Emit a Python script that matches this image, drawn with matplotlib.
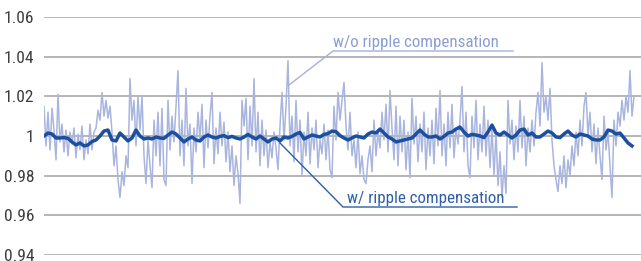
import numpy as np
import matplotlib
matplotlib.use("Agg")
import matplotlib.pyplot as plt
from matplotlib.lines import Line2D
from matplotlib import font_manager

# light series: without ripple compensation (one value per sample)
raw = [1.015, 0.995, 1.012, 0.993, 1.014, 1.003, 0.988, 1.021, 0.997, 1.006,
       0.992, 1.003, 0.990, 1.002, 0.996, 1.004, 0.989, 1.001, 0.993, 1.005,
       0.988, 0.998, 0.991, 1.006, 0.993, 1.002, 1.004, 1.013, 1.008, 1.022,
       1.010, 1.018, 1.009, 1.015, 1.002, 0.985, 0.995, 0.978, 0.969, 0.982,
       0.975, 0.990, 0.984, 1.029, 1.008, 1.018, 0.995, 1.020, 1.003, 1.020,
       0.990, 0.976, 0.998, 0.985, 0.974, 1.008, 0.990, 1.012, 0.985, 1.014,
       0.978, 0.975, 1.018, 0.993, 1.010, 0.997, 1.015, 1.033, 0.990, 1.008,
       0.985, 1.024, 0.995, 1.006, 0.976, 1.004, 0.992, 1.012, 0.998, 1.016,
       0.984, 1.008, 0.994, 1.010, 1.022, 0.986, 1.004, 0.991, 1.012, 0.995,
       1.007, 0.987, 1.002, 0.982, 0.995, 0.975, 0.990, 0.981, 0.966, 1.018,
       1.005, 1.019, 0.988, 1.015, 0.995, 1.029, 0.992, 1.012, 0.985, 1.008,
       0.990, 1.003, 0.984, 0.997, 0.989, 1.002, 0.994, 0.983, 1.005, 1.022,
       0.998, 1.015, 1.038, 0.995, 1.010, 0.987, 1.018, 0.992, 1.008, 0.980,
       1.002, 0.990, 1.012, 0.986, 1.004, 0.993, 1.008, 0.984, 0.998, 0.991,
       1.006, 0.988, 1.003, 0.983, 0.979, 1.015, 0.998, 1.022, 1.008, 1.018,
       1.027, 1.005, 0.993, 1.012, 0.990, 0.998, 0.984, 1.002, 0.981, 0.990,
       0.978, 0.976, 0.988, 0.995, 0.982, 1.008, 0.990, 1.002, 0.994, 1.012,
       0.998, 1.016, 0.992, 1.023, 1.004, 0.988, 1.015, 0.985, 1.010, 0.992,
       1.008, 0.983, 1.002, 0.979, 1.019, 0.996, 1.010, 0.987, 1.006, 0.992,
       1.012, 0.983, 1.004, 0.990, 1.008, 0.986, 1.014, 0.995, 1.023, 0.990,
       1.006, 0.985, 1.012, 0.994, 1.016, 0.989, 1.004, 0.996, 1.008, 1.025,
       0.992, 1.012, 0.985, 0.979, 1.010, 0.994, 1.018, 0.988, 1.006, 0.992,
       1.015, 0.990, 1.008, 0.984, 1.004, 0.980, 1.002, 0.975, 0.992, 0.969,
       0.985, 0.971, 1.018, 0.996, 1.008, 0.988, 1.005, 0.992, 1.018, 0.994,
       1.010, 0.985, 1.004, 0.992, 1.008, 0.995, 1.012, 1.022, 1.005, 1.037,
       1.012, 1.020, 1.008, 1.024, 0.998, 0.985, 0.978, 0.972, 0.985, 0.976,
       0.990, 0.974, 0.988, 0.980, 0.995, 0.985, 1.002, 0.990, 1.008, 0.995,
       1.015, 1.022, 1.000, 1.012, 0.992, 1.006, 0.986, 1.004, 0.990, 0.978,
       1.010, 0.993, 1.002, 0.985, 0.969, 1.008, 0.995, 1.012, 1.005, 1.018,
       1.008, 1.020, 1.012, 1.033, 1.010, 1.020]

# dark series: with ripple compensation (every second sample)
comp = [1.000, 1.0015, 1.001, 0.999, 0.999, 0.9992, 0.9988, 0.997, 0.9955, 0.9965,
        0.995, 0.9955, 0.9972, 0.998, 1.000, 1.0025, 1.003, 0.998, 0.9975, 1.0015,
        0.9995, 0.9975, 0.999, 1.003, 1.000, 0.9985, 0.999, 0.9985, 0.9995, 0.999,
        0.9988, 1.0005, 1.002, 1.001, 0.999, 0.997, 0.9985, 0.9995, 0.998, 0.9975,
        0.9995, 1.0005, 0.9995, 0.999, 0.9998, 1.0002, 0.9992, 0.9998, 0.999, 0.9985,
        0.9995, 1.0008, 0.9995, 0.9985, 1.000, 0.9985, 0.997, 0.9985, 0.999, 0.9975,
        0.9995, 0.999, 0.9998, 1.001, 1.0018, 0.9985, 0.9995, 1.0005, 1.000, 0.9995,
        1.0008, 1.0012, 1.0025, 1.0022, 1.0002, 0.999, 0.998, 0.999, 1.000, 0.9995,
        0.999, 1.001, 1.002, 1.0015, 1.0035, 1.0015, 0.9995, 0.9985, 0.997, 0.9975,
        0.998, 0.9985, 0.999, 1.001, 1.003, 1.001, 0.9995, 0.9995, 1.000, 0.9985,
        0.9998, 1.0015, 1.002, 1.0035, 1.0045, 1.002, 1.000, 1.0008, 1.0005, 1.000,
        0.9992, 1.002, 1.0055, 1.0015, 1.0005, 1.002, 1.0005, 0.999, 1.0005, 1.003,
        1.0035, 1.0005, 1.0015, 0.9995, 0.9995, 1.001, 1.0025, 1.0015, 0.9995, 0.9992,
        1.001, 1.0025, 1.0005, 0.9995, 1.001, 1.0005, 1.000, 0.9985, 0.998, 0.998,
        0.9995, 1.003, 1.0025, 1.001, 1.0015, 0.999, 0.9965, 0.995]

yticks = [0.94, 0.96, 0.98, 1.0, 1.02, 1.04, 1.06]
ylabels = ["0.94", "0.96", "0.98", "1", "1.02", "1.04", "1.06"]

# look for a condensed / narrow sans face, the chart text is narrow
cands = []
for f in font_manager.fontManager.ttflist:
    narrow = ("ondensed" in f.name or "Narrow" in f.name
              or "ondensed" in str(f.stretch) or "ondensed" in f.fname
              or "Narrow" in f.fname)
    if not narrow or f.style != "normal":
        continue
    if f.weight not in ("normal", "regular", 400, "book"):
        continue
    if "Serif" in f.name or "Mono" in f.name or "Bold" in f.fname:
        continue
    cands.append(f)
pref = ["Roboto", "Open Sans", "Noto Sans", "Liberation", "DejaVu"]
cands.sort(key=lambda f: min([i for i, p in enumerate(pref) if p in f.name] + [9]))
if cands:
    fp = font_manager.FontProperties(fname=cands[0].fname)
else:
    fp = font_manager.FontProperties(family="DejaVu Sans")

W, H = 641, 261
fig = plt.figure(figsize=(W / 100, H / 100), dpi=100)
ax = fig.add_axes([44 / W, 6 / H, 597 / W, 238 / H])

x_raw = np.arange(len(raw))
x_comp = np.arange(len(comp)) * 2

for t in yticks:
    ax.axhline(t, color="#b0b0b0", lw=1.3, zorder=0)

ax.plot(x_raw, raw, color="#a9b5dd", lw=1.1, zorder=2)
ax.plot(x_comp, comp, color="#1c4f9e", lw=2.5, zorder=3)

ax.set_xlim(0, 298.5)
ax.set_ylim(0.94, 1.06)
ax.set_yticks(yticks)
ax.set_yticklabels(ylabels)
ax.tick_params(axis="y", length=0, pad=7, labelcolor="#3c3c3c")
for lab in ax.get_yticklabels():
    lab.set_fontproperties(fp)
    lab.set_fontsize(12.5)
ax.set_xticks([])
for s in ax.spines.values():
    s.set_visible(False)
ax.patch.set_alpha(0)


def fx(px):
    return px / W


def fy(py):
    return 1 - py / H


# w/o label with leader
fig.text(fx(333), fy(47), "w/o ripple compensation", color="#8c9dd4",
         fontproperties=fp, fontsize=12.2, va="baseline", ha="left")
fig.add_artist(Line2D([fx(289), fx(333), fx(513)], [fy(85), fy(51), fy(51)],
                      color="#a3b1dc", lw=1.0))

# w/ label with leader
fig.text(fx(347), fy(203), "w/ ripple compensation", color="#2e5fa8",
         fontproperties=fp, fontsize=12.2, va="baseline", ha="left")
fig.add_artist(Line2D([fx(280), fx(343), fx(517)], [fy(143), fy(207), fy(207)],
                      color="#2e5fa8", lw=1.0))

fig.savefig("out.png", dpi=100)
